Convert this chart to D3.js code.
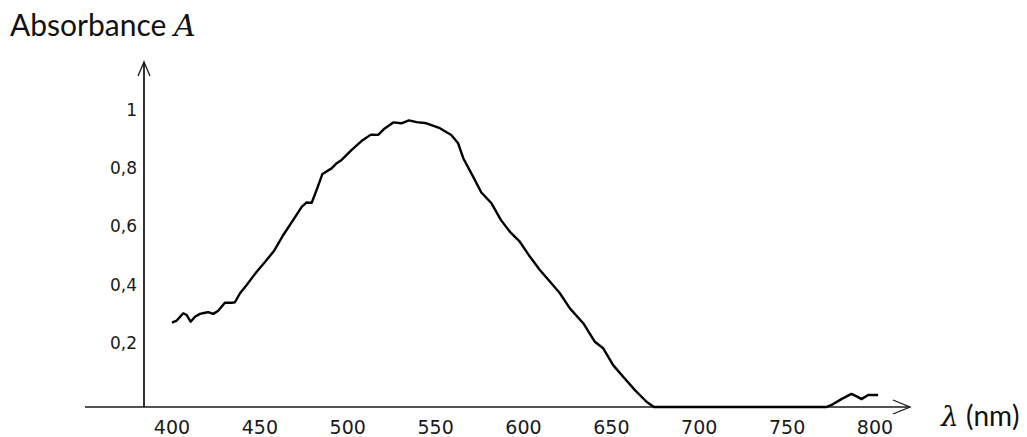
<!DOCTYPE html>
<html>
<head>
<meta charset="utf-8">
<script src="https://cdn.jsdelivr.net/npm/d3@7"></script>
<style>
  html, body { margin: 0; padding: 0; background: #fff; }
  svg { display: block; }
</style>
</head>
<body>
<div id="chart"></div>
<script>
// wavelength (nm) and absorbance
const wavelengths = [
  400, 402.7, 406.4, 408.4, 410.6, 413.1, 415.9, 418.8, 420.6, 423.5,
  426.3, 430.1, 434.0, 435.8, 438.7, 442.5, 445.3, 448.2, 452.9, 458.0,
  463.3, 469.0, 473.8, 476.6, 479.5, 482.3, 485.6, 490.8, 493.7, 496.5,
  502.1, 507.8, 513.2, 517.3, 520.6, 525.9, 530.5, 534.8, 539.2, 544.8,
  552.4, 558.9, 562.8, 565.8, 571.4, 576.0, 581.8, 587.1, 592.3, 597.9,
  603.6, 609.3, 615.0, 620.7, 626.4, 634.0, 640.6, 645.3, 651.0, 656.7,
  663.4, 670.0, 674.2, 700, 750, 772.4, 776.2, 780.9, 786.6, 790.4,
  792.3, 796.1, 801.8
];
const absorbance = [
  0.290, 0.297, 0.322, 0.316, 0.293, 0.310, 0.320, 0.324, 0.326, 0.320,
  0.331, 0.358, 0.358, 0.360, 0.391, 0.419, 0.442, 0.465, 0.498, 0.536,
  0.591, 0.643, 0.688, 0.703, 0.702, 0.746, 0.801, 0.820, 0.838, 0.849,
  0.883, 0.914, 0.936, 0.935, 0.955, 0.978, 0.975, 0.985, 0.979, 0.975,
  0.958, 0.935, 0.906, 0.854, 0.791, 0.737, 0.700, 0.643, 0.602, 0.568,
  0.517, 0.471, 0.431, 0.391, 0.339, 0.288, 0.224, 0.202, 0.144, 0.104,
  0.058, 0.018, 0, 0, 0, 0, 0.010, 0.027, 0.045, 0.034,
  0.027, 0.041, 0.041
];
const xTicks = [400, 450, 500, 550, 600, 650, 700, 750, 800];
const yTicks = [0.2, 0.4, 0.6, 0.8, 1];
const yTickLabels = ['0,2', '0,4', '0,6', '0,8', '1'];

const width = 1027;
const height = 437;

const x = d3.scaleLinear().domain([400, 800]).range([172, 875]);
const y = d3.scaleLinear().domain([0, 1]).range([407, 116]);

const svg = d3.select('#chart')
  .append('svg')
  .attr('width', width)
  .attr('height', height);

const ink = '#1a1a1a';

// axes drawn by hand, like the scanned figure
const axisX0 = 85, axisX1 = 910, axisY = y(0);
const yAxisX = 144, yAxisTop = 62;

svg.append('line')
  .attr('x1', axisX0).attr('x2', axisX1)
  .attr('y1', axisY).attr('y2', axisY)
  .attr('stroke', ink).attr('stroke-width', 1.5);

svg.append('path')
  .attr('d', `M${axisX1 - 17},${axisY - 7} L${axisX1},${axisY} L${axisX1 - 17},${axisY + 7}`)
  .attr('fill', 'none').attr('stroke', ink).attr('stroke-width', 1.3);

svg.append('line')
  .attr('x1', yAxisX).attr('x2', yAxisX)
  .attr('y1', axisY).attr('y2', yAxisTop)
  .attr('stroke', ink).attr('stroke-width', 1.8);

svg.append('path')
  .attr('d', `M${yAxisX - 6},${yAxisTop + 14} L${yAxisX},${yAxisTop} L${yAxisX + 6},${yAxisTop + 14}`)
  .attr('fill', 'none').attr('stroke', ink).attr('stroke-width', 1.3);

// tick labels
svg.append('g')
  .selectAll('text')
  .data(xTicks)
  .enter()
  .append('text')
  .attr('x', d => x(d))
  .attr('y', 434)
  .attr('text-anchor', 'middle')
  .style('font-family', 'DejaVu Sans, sans-serif')
  .style('font-size', '19px')
  .style('fill', ink)
  .text(d => d);

svg.append('g')
  .selectAll('text')
  .data(yTicks)
  .enter()
  .append('text')
  .attr('x', 137)
  .attr('y', d => y(d) - 6)
  .attr('dy', '0.35em')
  .attr('text-anchor', 'end')
  .style('font-family', 'DejaVu Sans, sans-serif')
  .style('font-size', '17px')
  .style('fill', ink)
  .text((d, i) => yTickLabels[i]);

// spectrum
const points = wavelengths.map((w, i) => ({w, a: absorbance[i]}));
const line = d3.line()
  .x(d => x(d.w))
  .y(d => y(d.a));

svg.append('path')
  .datum(points)
  .attr('d', line)
  .attr('fill', 'none')
  .attr('stroke', '#000')
  .attr('stroke-width', 2.4)
  .attr('stroke-linejoin', 'round');

// axis titles
const yTitle = svg.append('text')
  .attr('x', 10)
  .attr('y', 36)
  .style('font-family', 'Lato, sans-serif')
  .style('font-size', '30px')
  .style('fill', '#111');
yTitle.append('tspan').text('Absorbance ');
yTitle.append('tspan')
  .style('font-family', 'DejaVu Serif, serif')
  .style('font-style', 'italic')
  .text('A');

const xTitle = svg.append('text')
  .attr('x', 941)
  .attr('y', 426)
  .style('font-family', 'Lato, sans-serif')
  .style('font-size', '28px')
  .style('fill', '#111');
xTitle.append('tspan')
  .style('font-family', 'DejaVu Serif, serif')
  .style('font-style', 'italic')
  .text('λ');
xTitle.append('tspan').text(' (nm)');
</script>
</body>
</html>
